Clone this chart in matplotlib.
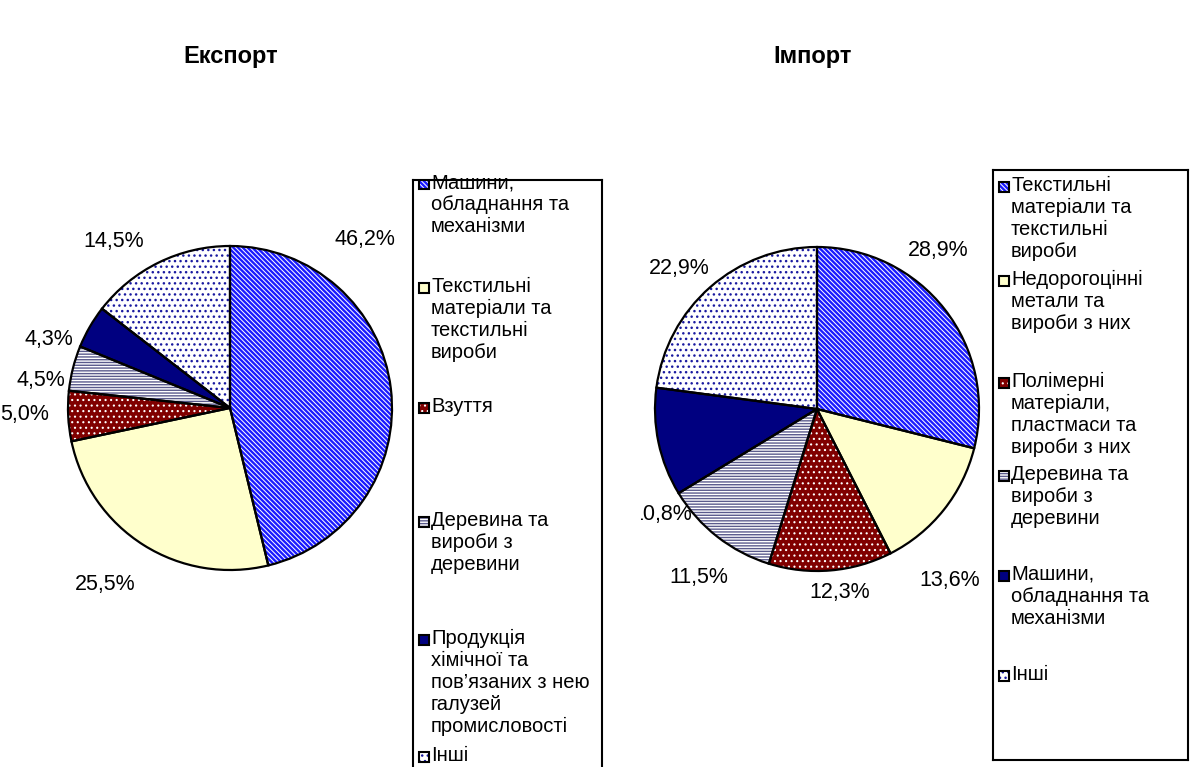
import matplotlib
matplotlib.use('Agg')
import matplotlib.pyplot as plt
from matplotlib.patches import Rectangle

plt.rcParams['font.family'] = ['Liberation Sans', 'DejaVu Sans']
plt.rcParams['hatch.linewidth'] = 1.0

# data
export_names = ['Машини,\nобладнання та\nмеханізми',
                'Текстильні\nматеріали та\nтекстильні\nвироби',
                'Взуття',
                'Деревина та\nвироби з\nдеревини',
                'Продукція\nхімічної та\nпов’язаних з нею\nгалузей\nпромисловості',
                'Інші']
export_values = [46.2, 25.5, 5.0, 4.5, 4.3, 14.5]

import_names = ['Текстильні\nматеріали та\nтекстильні\nвироби',
                'Недорогоцінні\nметали та\nвироби з них',
                'Полімерні\nматеріали,\nпластмаси та\nвироби з них',
                'Деревина та\nвироби з\nдеревини',
                'Машини,\nобладнання та\nмеханізми',
                'Інші']
import_values = [28.9, 13.6, 12.3, 11.5, 10.8, 22.9]

# slice styles: face colour, hatch colour, hatch, hatch line width
styles = [('white', '#1a1aff', '\\' * 7, 1.7),
          ('#ffffcc', '#ffffcc', '', 1.0),
          ('#800000', 'white', '...', 0.8),
          ('white', '#5a5a8c', '------', 1.0),
          ('#000080', '#000080', '', 1.0),
          ('white', '#1a1aa0', '...', 1.0)]

W, H = 1190, 767
R = 162  # pie radius in px
FS = 14.5
FS_PCT = 15.5


def px_rect(x0, y0, x1, y1):
    # pixel box (top-left origin) -> figure fraction
    return [x0 / W, 1 - y1 / H, (x1 - x0) / W, (y1 - y0) / H]


def style_patch(p, st):
    fc, hc, hatch, hlw = st
    p.set_facecolor(fc)
    p.set_edgecolor(hc)
    p.set_hatch(hatch)
    if hasattr(p, 'set_hatch_linewidth'):
        p.set_hatch_linewidth(hlw)


def draw_pie(ax, values, label_pos, half, clip_idx=None):
    pct = [f'{v:.1f}%'.replace('.', ',') for v in values]
    wedges, texts = ax.pie(values, labels=pct, startangle=90, counterclock=False,
                           wedgeprops=dict(linewidth=0))
    for w, st in zip(wedges, styles):
        style_patch(w, st)
    ax.pie(values, startangle=90, counterclock=False, colors=['none'] * len(values),
           wedgeprops=dict(edgecolor='black', linewidth=1.6))
    for i, (t, (x, y)) in enumerate(zip(texts, label_pos)):
        t.set_position((x, y))
        t.set_ha('center')
        t.set_va('center')
        t.set_fontsize(FS_PCT)
        if i == clip_idx:
            t.set_clip_on(True)
    ax.set_xlim(-half, half)
    ax.set_ylim(-half, half)
    ax.set_aspect('equal')


def draw_legend(ax, names, y_first, w, h):
    ax.set_xlim(0, w)
    ax.set_ylim(h, 0)
    ax.set_xticks([])
    ax.set_yticks([])
    for s in ax.spines.values():
        s.set_linewidth(1.5)
        s.set_color('black')
    for name, y, st in zip(names, y_first, styles):
        box = Rectangle((6, y - 5), 10, 10, linewidth=0)
        style_patch(box, st)
        ax.add_patch(box)
        ax.add_patch(Rectangle((6, y - 5), 10, 10, facecolor='none',
                               edgecolor='black', linewidth=1.5))
        ax.text(18, y - 11, name, fontsize=FS, ha='left', va='top', linespacing=1.2)


fig = plt.figure(figsize=(W / 100, H / 100), dpi=100)

# export pie, centre (230, 408)
cx, cy, half_px = 230, 408, 200
ax1 = fig.add_axes(px_rect(cx - half_px, cy - half_px, cx + half_px, cy + half_px))
export_pos = [(0.83, 1.04), (-0.77, -1.09), (-1.27, -0.04), (-1.17, 0.17),
              (-1.12, 0.42), (-0.72, 1.03)]
draw_pie(ax1, export_values, export_pos, half_px / R)

# import pie, centre (817, 409); left edge clips the 10,8% label
cx, cy, half_px = 817, 409, 176
ax2 = fig.add_axes(px_rect(cx - half_px, cy - 200, cx + half_px, cy + 200))
import_pos = [(0.75, 0.98), (0.82, -1.06), (0.14, -1.13), (-0.73, -1.04),
              (-0.96, -0.65), (-0.85, 0.87)]
draw_pie(ax2, import_values, import_pos, half_px / R, clip_idx=4)
ax2.set_ylim(-200 / R, 200 / R)

# legends
lg1 = fig.add_axes(px_rect(413, 180, 602, 790))
lg1.set_zorder(5)
draw_legend(lg1, export_names, [4, 108, 228, 342, 460, 577], 189, 610)

lg2 = fig.add_axes(px_rect(993, 170, 1188, 760))
draw_legend(lg2, import_names, [17, 111, 213, 306, 406, 506], 195, 590)

fig.text(231 / W, 1 - 57 / H, 'Експорт', ha='center', va='center',
         fontsize=17, fontweight='bold')
fig.text(813 / W, 1 - 57 / H, 'Імпорт', ha='center', va='center',
         fontsize=17, fontweight='bold')

fig.savefig('out.png', dpi=100)
